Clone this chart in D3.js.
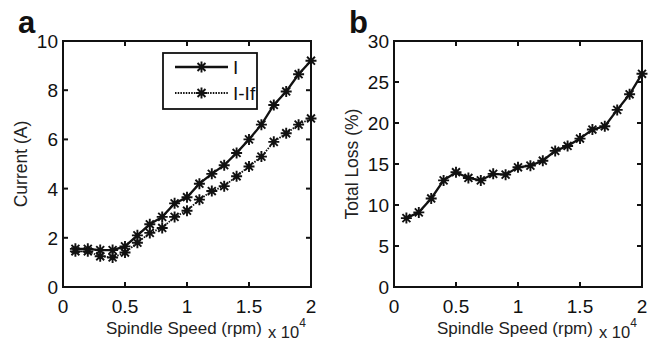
<!DOCTYPE html>
<html>
<head>
<meta charset="utf-8">
<script src="https://cdn.jsdelivr.net/npm/d3@7"></script>
<style>
  body { margin: 0; background: #fff; }
  svg { font-family: "Liberation Sans", Arial, sans-serif; }
</style>
</head>
<body>
<svg width="662" height="342"></svg>
<script>
// spindle speed in rpm
const speed = [1000, 2000, 3000, 4000, 5000, 6000, 7000, 8000, 9000, 10000,
               11000, 12000, 13000, 14000, 15000, 16000, 17000, 18000, 19000, 20000]

// panel a: current (A)
const currentI = [1.55, 1.55, 1.5, 1.5, 1.65, 2.1, 2.55, 2.85, 3.4, 3.65,
                  4.2, 4.6, 4.95, 5.45, 6.0, 6.6, 7.4, 7.95, 8.65, 9.2]
const currentIIf = [1.45, 1.45, 1.25, 1.2, 1.4, 1.8, 2.2, 2.4, 2.85, 3.1,
                    3.55, 3.9, 4.1, 4.5, 4.9, 5.3, 5.9, 6.25, 6.6, 6.85]

// panel b: total loss (%)
const totalLoss = [8.4, 9.1, 10.8, 13.0, 14.0, 13.3, 13.0, 13.8, 13.7, 14.6,
                   14.8, 15.4, 16.6, 17.2, 18.1, 19.2, 19.6, 21.6, 23.5, 26.0]

const xTicks = [0, 5000, 10000, 15000, 20000]
const xTickLabels = ["0", "0.5", "1", "1.5", "2"]
const yTicksA = [0, 2, 4, 6, 8, 10]
const yTicksB = [0, 5, 10, 15, 20, 25, 30]
const legendNames = ["I", "I-If"]

const svg = d3.select("svg")

function star(g, x, y) {
    const r = 5.5
    const k = r * 0.72
    const d = `M${x - r},${y}L${x + r},${y}M${x},${y - r}L${x},${y + r}` +
        `M${x - k},${y - k}L${x + k},${y + k}` +
        `M${x - k},${y + k}L${x + k},${y - k}`
    g.append("path").attr("d", d).style("stroke", "#111").style("stroke-width", 1.9).style("fill", "none")
}

function panel(opts) {
    const left = opts.left, right = opts.left + 248, top = 41, bottom = 287

    const x = d3.scaleLinear().domain([0, 20000]).range([left, right])
    const y = d3.scaleLinear().domain(opts.yDomain).range([bottom, top])

    const g = svg.append("g")

    // inward ticks, mirrored on all sides
    const tickLen = 5
    xTicks.forEach(t => {
        g.append("line").attr("x1", x(t)).attr("x2", x(t)).attr("y1", bottom).attr("y2", bottom - tickLen)
            .style("stroke", "#111").style("stroke-width", 2)
        g.append("line").attr("x1", x(t)).attr("x2", x(t)).attr("y1", top).attr("y2", top + tickLen)
            .style("stroke", "#111").style("stroke-width", 2)
    })
    opts.yTicks.forEach(t => {
        g.append("line").attr("y1", y(t)).attr("y2", y(t)).attr("x1", left).attr("x2", left + tickLen)
            .style("stroke", "#111").style("stroke-width", 2)
        g.append("line").attr("y1", y(t)).attr("y2", y(t)).attr("x1", right).attr("x2", right - tickLen)
            .style("stroke", "#111").style("stroke-width", 2)
    })

    g.selectAll("text.xtick")
        .data(xTicks)
        .enter()
        .append("text")
        .attr("class", "xtick")
        .attr("x", d => x(d))
        .attr("y", bottom + 26)
        .style("text-anchor", "middle")
        .style("font-size", "19px")
        .style("fill", "#111")
        .text((d, i) => xTickLabels[i])

    g.selectAll("text.ytick")
        .data(opts.yTicks)
        .enter()
        .append("text")
        .attr("class", "ytick")
        .attr("x", left - 5)
        .attr("y", d => y(d) + 7)
        .style("text-anchor", "end")
        .style("font-size", "19px")
        .style("fill", "#111")
        .text(d => d)

    // lines
    opts.series.forEach(s => {
        const line = d3.line().x((d, i) => x(speed[i])).y(d => y(d))
        g.append("path")
            .attr("d", line(s.values))
            .style("fill", "none")
            .style("stroke", "#111")
            .style("stroke-width", s.dash ? 1.8 : 2.3)
            .style("stroke-dasharray", s.dash ? "1.5,1.2" : null)
        s.values.forEach((v, i) => star(g, x(speed[i]), y(v)))
    })

    // box
    g.append("rect")
        .attr("x", left).attr("y", top)
        .attr("width", right - left).attr("height", bottom - top)
        .style("fill", "none").style("stroke", "#111").style("stroke-width", 2)

    // labels
    g.append("text")
        .attr("x", (left + right) / 2 - 3)
        .attr("y", 334)
        .style("text-anchor", "middle")
        .style("font-size", "17px")
        .style("fill", "#222")
        .text("Spindle Speed (rpm)")

    const ex = g.append("text")
        .attr("x", right - 43)
        .attr("y", 338)
        .style("font-size", "16.5px")
        .style("fill", "#222")
    ex.append("tspan").text("x 10")
    ex.append("tspan").attr("dy", -11).style("font-size", "12px").text("4")

    g.append("text")
        .attr("transform", `translate(${left - 36}, ${(top + bottom) / 2}) rotate(-90)`)
        .style("text-anchor", "middle")
        .style("font-size", "17.5px")
        .style("fill", "#222")
        .text(opts.yLabel)

    g.append("text")
        .attr("x", left - 45)
        .attr("y", 33)
        .style("font-size", "31px")
        .style("font-weight", "bold")
        .style("fill", "#111")
        .text(opts.letter)

    return g
}

const ga = panel({
    left: 63, letter: "a", yLabel: "Current (A)",
    yDomain: [0, 10], yTicks: yTicksA,
    series: [{ values: currentI, dash: false }, { values: currentIIf, dash: true }]
})

panel({
    left: 394, letter: "b", yLabel: "Total Loss (%)",
    yDomain: [0, 30], yTicks: yTicksB,
    series: [{ values: totalLoss, dash: false }]
})

// legend for panel a
const leg = ga.append("g")
leg.append("rect")
    .attr("x", 163).attr("y", 53).attr("width", 94).attr("height", 56)
    .style("fill", "#fff").style("stroke", "#111").style("stroke-width", 1.8)
legendNames.forEach((name, i) => {
    const ly = 67 + i * 26
    leg.append("line")
        .attr("x1", 175).attr("x2", 228).attr("y1", ly).attr("y2", ly)
        .style("stroke", "#111")
        .style("stroke-width", i ? 1.8 : 2.3)
        .style("stroke-dasharray", i ? "1.5,1.2" : null)
    star(leg, 201.5, ly)
    leg.append("text")
        .attr("x", 233).attr("y", ly + 7)
        .style("font-size", "19px")
        .style("fill", "#111")
        .text(name)
})
</script>
</body>
</html>
